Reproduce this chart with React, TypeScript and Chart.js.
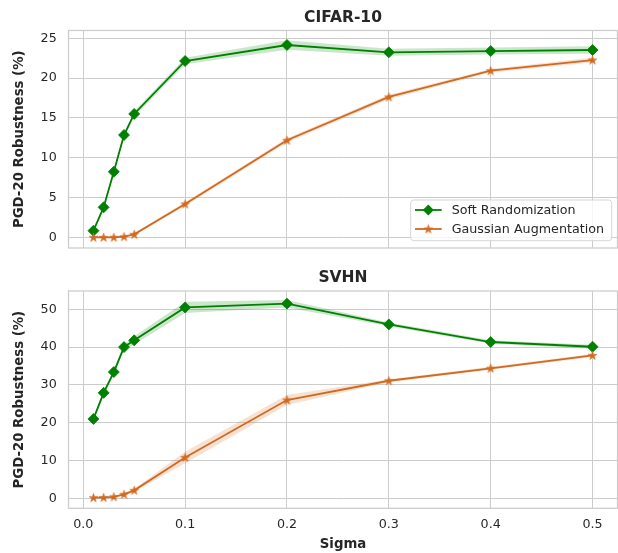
import { useEffect, useRef } from "react";
import { Chart, registerables } from "chart.js";

Chart.register(...registerables);

// ---------- data ----------
const sigma = [0.01, 0.02, 0.03, 0.04, 0.05, 0.1, 0.2, 0.3, 0.4, 0.5];
const xTicks = [0.0, 0.1, 0.2, 0.3, 0.4, 0.5];

const cifarTicks = [0, 5, 10, 15, 20, 25];
const cifarSoft = [0.83, 3.77, 8.24, 12.85, 15.5, 22.15, 24.16, 23.24, 23.4, 23.53];
const cifarSoftLo = [0.6, 3.5, 7.95, 12.55, 15.15, 21.75, 23.55, 22.8, 22.95, 23.05];
const cifarSoftHi = [1.05, 4.05, 8.55, 13.15, 15.85, 22.55, 24.75, 23.7, 23.85, 24.0];
const cifarGauss = [0.0, 0.0, 0.0, 0.08, 0.37, 4.18, 12.19, 17.63, 20.93, 22.27];
const cifarGaussLo = [0.0, 0.0, 0.0, 0.02, 0.25, 3.95, 11.9, 17.35, 20.7, 21.95];
const cifarGaussHi = [0.02, 0.03, 0.04, 0.15, 0.5, 4.4, 12.45, 17.9, 21.15, 22.6];

const svhnTicks = [0, 10, 20, 30, 40, 50];
const svhnSoft = [21.0, 27.9, 33.4, 40.0, 41.8, 50.5, 51.5, 46.0, 41.35, 40.1];
const svhnSoftLo = [20.6, 27.3, 32.8, 39.3, 40.7, 49.0, 50.5, 45.5, 40.9, 39.6];
const svhnSoftHi = [21.4, 28.5, 34.0, 40.7, 42.9, 52.0, 52.5, 46.5, 41.8, 40.6];
const svhnGauss = [0.15, 0.2, 0.4, 1.05, 2.1, 10.8, 26.0, 31.1, 34.4, 37.8];
const svhnGaussLo = [0.05, 0.1, 0.25, 0.8, 1.7, 9.3, 24.7, 30.7, 34.0, 37.4];
const svhnGaussHi = [0.25, 0.3, 0.55, 1.3, 2.5, 12.3, 27.3, 31.5, 34.8, 38.2];

const seriesNames = ["Soft Randomization", "Gaussian Augmentation"];

// ---------- style ----------
const FONT = "'DejaVu Sans', sans-serif";
const TEXT = "#262626";
const GRID = "#cccccc";
const GREEN = "#008000";
const ORANGE = "#d2691e";
const GREEN_BAND = "rgba(0,128,0,0.2)";
const ORANGE_BAND = "rgba(210,105,30,0.2)";

function makeStar(color: string): HTMLCanvasElement {
  const c = document.createElement("canvas");
  const s = 11;
  c.width = s;
  c.height = s;
  const ctx = c.getContext("2d")!;
  const cx = s / 2;
  const cy = s / 2 + 0.3;
  const R = 4.6;
  const r = R * 0.382;
  ctx.beginPath();
  for (let i = 0; i < 10; i++) {
    const ang = -Math.PI / 2 + (i * Math.PI) / 5;
    const rad = i % 2 === 0 ? R : r;
    const px = cx + rad * Math.cos(ang);
    const py = cy + rad * Math.sin(ang);
    if (i === 0) ctx.moveTo(px, py);
    else ctx.lineTo(px, py);
  }
  ctx.closePath();
  ctx.fillStyle = color;
  ctx.fill();
  ctx.strokeStyle = color;
  ctx.lineWidth = 0.6;
  ctx.stroke();
  return c;
}

const pts = (ys: number[]) => sigma.map((x, i) => ({ x, y: ys[i] }));

interface PanelSpec {
  title: string;
  yTicks: number[];
  yMin: number;
  yMax: number;
  soft: number[];
  softLo: number[];
  softHi: number[];
  gauss: number[];
  gaussLo: number[];
  gaussHi: number[];
  bottom: boolean;
  legend: boolean;
  area: { left: number; top: number; right: number; bottom: number };
  height: number;
}

function zeroPad(scale: any) {
  scale.paddingLeft = 0;
  scale.paddingRight = 0;
  scale.paddingTop = 0;
  scale.paddingBottom = 0;
}

function buildChart(canvas: HTMLCanvasElement, p: PanelSpec, star: HTMLCanvasElement) {
  const dims = {
    yWidth: p.area.left,
    xHeight: p.height - p.area.bottom,
  };
  const framePlugin = {
    id: "frame",
    beforeDatasetsDraw(chart: any) {
      const { ctx, chartArea: a } = chart;
      ctx.save();
      ctx.strokeStyle = GRID;
      ctx.lineWidth = 1.25;
      ctx.strokeRect(a.left, a.top, a.right - a.left, a.bottom - a.top);
      ctx.restore();
    },
  };
  const titlePlugin = {
    id: "panelTitle",
    afterDraw(chart: any) {
      const { ctx, chartArea: a } = chart;
      ctx.save();
      ctx.font = `bold 15.5px ${FONT}`;
      ctx.fillStyle = TEXT;
      ctx.textAlign = "center";
      ctx.textBaseline = "middle";
      ctx.fillText(p.title, (a.left + a.right) / 2, 17.5);
      ctx.restore();
    },
  };
  const legendPlugin = {
    id: "innerLegend",
    afterDraw(chart: any) {
      if (!p.legend) return;
      const { ctx } = chart;
      ctx.save();
      const bx = 410.7, by = 200, bw = 201, bh = 40.7, r = 3;
      ctx.beginPath();
      ctx.moveTo(bx + r, by);
      ctx.lineTo(bx + bw - r, by);
      ctx.arcTo(bx + bw, by, bx + bw, by + r, r);
      ctx.lineTo(bx + bw, by + bh - r);
      ctx.arcTo(bx + bw, by + bh, bx + bw - r, by + bh, r);
      ctx.lineTo(bx + r, by + bh);
      ctx.arcTo(bx, by + bh, bx, by + bh - r, r);
      ctx.lineTo(bx, by + r);
      ctx.arcTo(bx, by, bx + r, by, r);
      ctx.closePath();
      ctx.fillStyle = "rgba(255,255,255,0.8)";
      ctx.fill();
      ctx.strokeStyle = "#d6d6d6";
      ctx.lineWidth = 1;
      ctx.stroke();
      const rows = [
        { y: 210, color: GREEN, marker: "diamond" },
        { y: 229, color: ORANGE, marker: "star" },
      ];
      rows.forEach((row, i) => {
        ctx.strokeStyle = row.color;
        ctx.lineWidth = 1.8;
        ctx.beginPath();
        ctx.moveTo(415, row.y);
        ctx.lineTo(441.7, row.y);
        ctx.stroke();
        const mx = 428.3;
        if (row.marker === "diamond") {
          ctx.fillStyle = row.color;
          ctx.beginPath();
          ctx.moveTo(mx, row.y - 5.5);
          ctx.lineTo(mx + 5.5, row.y);
          ctx.lineTo(mx, row.y + 5.5);
          ctx.lineTo(mx - 5.5, row.y);
          ctx.closePath();
          ctx.fill();
        } else {
          ctx.drawImage(star, mx - star.width / 2, row.y - star.height / 2);
        }
        ctx.fillStyle = TEXT;
        ctx.font = `12.7px ${FONT}`;
        ctx.textAlign = "left";
        ctx.textBaseline = "middle";
        ctx.fillText(seriesNames[i], 451.7, row.y + 0.5);
      });
      ctx.restore();
    },
  };

  const lineCommon = {
    borderWidth: 1.8,
    fill: false,
    tension: 0,
  };

  const options: any = {
    responsive: false,
    animation: false,
    events: [],
    layout: {
      autoPadding: false,
      padding: { left: 0, right: 618 - p.area.right, top: p.area.top, bottom: 0 },
    },
    plugins: {
      legend: { display: false },
      title: { display: false },
      tooltip: { enabled: false },
    },
    scales: {
      x: {
        type: "linear",
        min: -0.0145,
        max: 0.5245,
        afterBuildTicks: (scale: any) => {
          scale.ticks = xTicks.map((v) => ({ value: v }));
        },
        afterFit: (scale: any) => {
          scale.height = dims.xHeight;
          zeroPad(scale);
        },
        grid: { color: GRID, lineWidth: 1, drawTicks: false },
        border: { display: false },
        ticks: {
          display: p.bottom,
          autoSkip: false,
          maxRotation: 0,
          padding: 9,
          color: TEXT,
          font: { family: FONT, size: 12.7 },
          callback: (v: any) => Number(v).toFixed(1),
        },
        title: {
          display: p.bottom,
          text: "Sigma",
          color: TEXT,
          font: { family: FONT, size: 13.3, weight: "bold" },
          padding: { top: 0, bottom: 0 },
        },
      },
      y: {
        type: "linear",
        min: p.yMin,
        max: p.yMax,
        afterBuildTicks: (scale: any) => {
          scale.ticks = p.yTicks.map((v) => ({ value: v }));
        },
        afterFit: (scale: any) => {
          scale.width = dims.yWidth;
          zeroPad(scale);
        },
        grid: { color: GRID, lineWidth: 1, drawTicks: false },
        border: { display: false },
        ticks: {
          autoSkip: false,
          padding: 11.8,
          color: TEXT,
          font: { family: FONT, size: 12.7 },
          callback: (v: any) => String(v),
        },
        title: {
          display: true,
          text: "PGD-20 Robustness (%)",
          color: TEXT,
          font: { family: FONT, size: 13.3, weight: "bold" },
          padding: { top: 11.2, bottom: 0 },
        },
      },
    },
  };

  const chart: any = new Chart(canvas, {
    type: "line",
    data: {
      datasets: [
        {
          ...lineCommon,
          label: seriesNames[1],
          data: pts(p.gauss),
          borderColor: ORANGE,
          backgroundColor: ORANGE,
          pointStyle: star as any,
          pointRadius: 4.5,
        },
        {
          ...lineCommon,
          label: seriesNames[0],
          data: pts(p.soft),
          borderColor: GREEN,
          backgroundColor: GREEN,
          pointStyle: "rectRot",
          pointRadius: 5.5,
          pointBorderWidth: 0.8,
        },
        {
          label: "soft-hi",
          data: pts(p.softHi),
          borderWidth: 0,
          pointRadius: 0,
          backgroundColor: GREEN_BAND,
          fill: "+1",
        },
        {
          label: "soft-lo",
          data: pts(p.softLo),
          borderWidth: 0,
          pointRadius: 0,
          fill: false,
        },
        {
          label: "gauss-hi",
          data: pts(p.gaussHi),
          borderWidth: 0,
          pointRadius: 0,
          backgroundColor: ORANGE_BAND,
          fill: "+1",
        },
        {
          label: "gauss-lo",
          data: pts(p.gaussLo),
          borderWidth: 0,
          pointRadius: 0,
          fill: false,
        },
      ],
    },
    options,
    plugins: [framePlugin, titlePlugin, legendPlugin],
  } as any);

  return chart;
}

export default function App() {
  const topRef = useRef<HTMLCanvasElement>(null);
  const botRef = useRef<HTMLCanvasElement>(null);

  useEffect(() => {
    const star = makeStar(ORANGE);
    const c1 = buildChart(
      topRef.current!,
      {
        title: "CIFAR-10",
        yTicks: cifarTicks,
        yMin: -1.34,
        yMax: 25.98,
        soft: cifarSoft,
        softLo: cifarSoftLo,
        softHi: cifarSoftHi,
        gauss: cifarGauss,
        gaussLo: cifarGaussLo,
        gaussHi: cifarGaussHi,
        bottom: false,
        legend: true,
        area: { left: 68.5, top: 30.5, right: 617.5, bottom: 248 },
        height: 260,
      },
      star
    );
    const c2 = buildChart(
      botRef.current!,
      {
        title: "SVHN",
        yTicks: svhnTicks,
        yMin: -2.65,
        yMax: 54.85,
        soft: svhnSoft,
        softLo: svhnSoftLo,
        softHi: svhnSoftHi,
        gauss: svhnGauss,
        gaussLo: svhnGaussLo,
        gaussHi: svhnGaussHi,
        bottom: true,
        legend: false,
        area: { left: 68.5, top: 31, right: 617.5, bottom: 248.3 },
        height: 293,
      },
      star
    );
    return () => {
      c1.destroy();
      c2.destroy();
    };
  }, []);

  return (
    <div
      style={{
        position: "absolute",
        left: 0,
        top: 0,
        width: 618,
        height: 553,
        background: "#ffffff",
      }}
    >
      <canvas ref={topRef} width={618} height={260} style={{ display: "block", width: 618, height: 260 }} />
      <canvas ref={botRef} width={618} height={293} style={{ display: "block", width: 618, height: 293 }} />
    </div>
  );
}
